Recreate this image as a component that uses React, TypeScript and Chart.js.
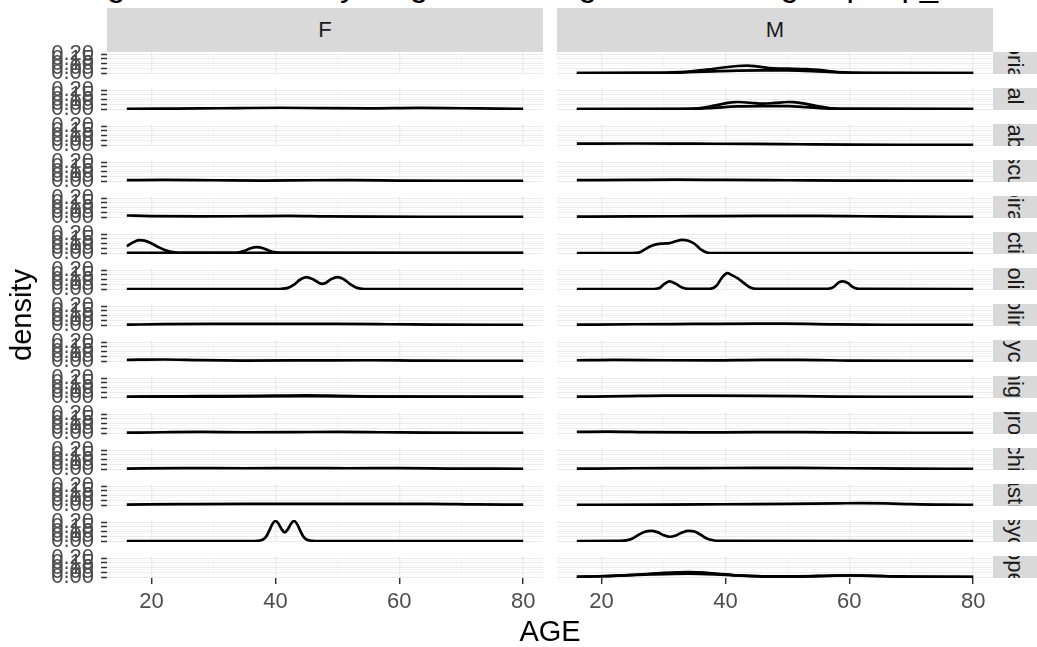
import React, { useEffect, useRef } from "react";
import { Chart, registerables } from "chart.js";

Chart.register(...registerables);

// ---------------- data ----------------
const TITLE = "Age distribution by diagnosis and gender in the group top_15";
const GENDERS = ["F", "M"];
const GROUPS = [
  "psoriasis",
  "dental care",
  "metabolic",
  "vascular",
  "respiratory",
  "infectious",
  "anticholinergic",
  "anticholinergics",
  "antipsychotics",
  "antimigraine",
  "hygroma",
  "psychiatry",
  "gastric",
  "antipsychotic",
  "orthopedics",
];
const X_LABEL = "AGE";
const Y_LABEL = "density";
const AGE_MIN = 16;
const AGE_MAX = 80;
const X_TICKS = [20, 40, 60, 80];
const X_MINOR = [30, 50, 70];
const Y_TICKS = [0, 0.05, 0.1, 0.15, 0.2];
const Y_MINOR = [0.025, 0.075, 0.125, 0.175];
const DENSITY_TOP = 0.212;

// F panels
const F02_AGE = [16, 22, 28, 34, 41, 48, 55, 63, 70, 76, 80];
const F02_DEN = [0.002, 0.004, 0.006, 0.01, 0.013, 0.009, 0.007, 0.012, 0.008, 0.004, 0.002];
const F04_AGE = [16, 22, 30, 38, 46, 52, 60, 70, 80];
const F04_DEN = [0.009, 0.011, 0.008, 0.005, 0.008, 0.009, 0.005, 0.002, 0.001];
const F05_AGE = [16, 20, 28, 36, 42, 48, 56, 65, 80];
const F05_DEN = [0.016, 0.01, 0.006, 0.009, 0.012, 0.007, 0.003, 0.002, 0.001];
const F06A_AGE = [16, 17, 18, 19, 20, 21, 22, 23, 24, 25, 33, 34, 35, 36, 37, 38, 39, 40, 41, 80];
const F06A_DEN = [0.07, 0.113, 0.136, 0.129, 0.101, 0.066, 0.035, 0.014, 0.004, 0.001, 0.001, 0.005, 0.023, 0.051, 0.062, 0.051, 0.023, 0.006, 0.001, 0];
const F06B_AGE = [16, 40, 80];
const F06B_DEN = [0.002, 0.002, 0.001];
const F07_AGE = [16, 40, 41, 42, 43, 44, 45, 46, 47, 47.5, 48, 49, 50, 51, 52, 53, 54, 55, 80];
const F07_DEN = [0, 0, 0.002, 0.012, 0.047, 0.101, 0.126, 0.105, 0.066, 0.055, 0.061, 0.105, 0.126, 0.105, 0.055, 0.016, 0.002, 0, 0];
const F08_AGE = [16, 22, 30, 40, 50, 58, 66, 80];
const F08_DEN = [0.003, 0.009, 0.011, 0.011, 0.011, 0.008, 0.003, 0.001];
const F09_AGE = [16, 22, 28, 35, 45, 55, 62, 70, 80];
const F09_DEN = [0.012, 0.016, 0.009, 0.005, 0.006, 0.008, 0.005, 0.002, 0.001];
const F10A_AGE = [16, 25, 32, 40, 45, 50, 56, 65, 80];
const F10A_DEN = [0.002, 0.008, 0.009, 0.014, 0.017, 0.012, 0.005, 0.002, 0.001];
const F10B_AGE = [16, 30, 45, 60, 80];
const F10B_DEN = [0.002, 0.005, 0.008, 0.003, 0.001];
const F11_AGE = [16, 22, 28, 35, 43, 50, 57, 65, 80];
const F11_DEN = [0.003, 0.008, 0.011, 0.008, 0.009, 0.012, 0.008, 0.003, 0.001];
const F12_AGE = [16, 25, 35, 45, 52, 60, 68, 80];
const F12_DEN = [0.004, 0.009, 0.008, 0.009, 0.008, 0.009, 0.005, 0.002];
const F13_AGE = [16, 25, 35, 45, 55, 65, 72, 80];
const F13_DEN = [0.005, 0.009, 0.012, 0.012, 0.011, 0.011, 0.006, 0.003];
const F14_AGE = [16, 36, 37, 38, 38.5, 39, 39.5, 40, 40.5, 41, 41.5, 42, 42.5, 43, 43.5, 44, 44.5, 45, 46, 47, 80];
const F14_DEN = [0, 0, 0.002, 0.016, 0.047, 0.109, 0.179, 0.212, 0.183, 0.125, 0.091, 0.125, 0.183, 0.212, 0.179, 0.109, 0.047, 0.016, 0.002, 0, 0];

// M panels
const M01A_AGE = [16, 28, 31, 34, 37, 40, 42, 43.5, 45, 47, 49, 51, 53, 55, 57, 59, 61, 64, 80];
const M01A_DEN = [0, 0.001, 0.005, 0.014, 0.035, 0.061, 0.074, 0.078, 0.07, 0.053, 0.047, 0.045, 0.041, 0.033, 0.017, 0.006, 0.002, 0, 0];
const M01B_AGE = [16, 30, 34, 38, 42, 46, 50, 54, 58, 62, 80];
const M01B_DEN = [0, 0.002, 0.008, 0.017, 0.025, 0.028, 0.027, 0.02, 0.008, 0.002, 0];
const M02A_AGE = [16, 33, 35, 37, 39, 41, 42, 44, 46, 48, 50, 51, 53, 55, 57, 59, 80];
const M02A_DEN = [0, 0, 0.004, 0.02, 0.047, 0.07, 0.074, 0.066, 0.056, 0.064, 0.074, 0.073, 0.055, 0.027, 0.008, 0.001, 0];
const M02B_AGE = [16, 35, 38, 42, 46, 50, 53, 56, 59, 80];
const M02B_DEN = [0, 0.002, 0.012, 0.027, 0.031, 0.03, 0.02, 0.006, 0.001, 0];
const M03_AGE = [16, 25, 35, 45, 52, 60, 70, 80];
const M03_DEN = [0.014, 0.016, 0.014, 0.012, 0.008, 0.004, 0.002, 0.001];
const M04_AGE = [16, 25, 32, 40, 50, 60, 70, 80];
const M04_DEN = [0.009, 0.012, 0.014, 0.011, 0.008, 0.005, 0.002, 0.001];
const M05_AGE = [16, 25, 35, 45, 55, 62, 70, 80];
const M05_DEN = [0.003, 0.006, 0.009, 0.012, 0.012, 0.008, 0.003, 0.002];
const M06_AGE = [16, 25, 26, 27, 28, 29, 30, 31, 32, 33, 34, 35, 36, 37, 38, 80];
const M06_DEN = [0, 0, 0.004, 0.039, 0.074, 0.094, 0.1, 0.105, 0.125, 0.14, 0.129, 0.098, 0.039, 0.006, 0, 0];
const M07_AGE = [16, 28.5, 29.5, 30, 31, 32, 33, 34, 37.5, 38.5, 39.5, 40.3, 41, 42, 43, 44, 45, 56.5, 57.5, 58.3, 59, 59.8, 60.5, 61.5, 80];
const M07_DEN = [0, 0, 0.016, 0.047, 0.081, 0.055, 0.016, 0.002, 0.002, 0.031, 0.125, 0.168, 0.148, 0.113, 0.062, 0.016, 0.002, 0.002, 0.023, 0.07, 0.081, 0.062, 0.023, 0.002, 0];
const M08_AGE = [16, 25, 35, 45, 50, 58, 66, 80];
const M08_DEN = [0.003, 0.008, 0.011, 0.014, 0.014, 0.006, 0.002, 0.001];
const M09_AGE = [16, 22, 30, 38, 46, 52, 60, 70, 80];
const M09_DEN = [0.008, 0.012, 0.008, 0.006, 0.011, 0.011, 0.005, 0.002, 0.001];
const M10_AGE = [16, 24, 30, 38, 46, 52, 58, 66, 80];
const M10_DEN = [0.003, 0.009, 0.014, 0.014, 0.012, 0.009, 0.005, 0.002, 0.001];
const M11_AGE = [16, 21, 27, 35, 45, 52, 60, 70, 80];
const M11_DEN = [0.011, 0.014, 0.009, 0.006, 0.009, 0.009, 0.006, 0.002, 0.001];
const M12_AGE = [16, 25, 35, 45, 52, 60, 70, 80];
const M12_DEN = [0.003, 0.008, 0.009, 0.012, 0.011, 0.008, 0.003, 0.001];
const M13_AGE = [16, 30, 40, 50, 58, 62, 66, 70, 75, 80];
const M13_DEN = [0.002, 0.003, 0.008, 0.012, 0.017, 0.02, 0.017, 0.009, 0.003, 0.002];
const M14_AGE = [16, 23, 24, 25, 26, 27, 28, 29, 30, 31, 32, 33, 34, 35, 36, 37, 38, 39, 80];
const M14_DEN = [0, 0.001, 0.006, 0.027, 0.066, 0.098, 0.108, 0.094, 0.062, 0.045, 0.059, 0.09, 0.108, 0.101, 0.066, 0.027, 0.008, 0.001, 0];
const M15A_AGE = [16, 20, 25, 30, 34, 38, 42, 46, 50, 55, 60, 65, 70, 80];
const M15A_DEN = [0.002, 0.008, 0.023, 0.043, 0.051, 0.039, 0.016, 0.004, 0.003, 0.009, 0.017, 0.009, 0.002, 0];
const M15B_AGE = [16, 22, 28, 34, 40, 46, 52, 58, 62, 68, 80];
const M15B_DEN = [0.002, 0.012, 0.027, 0.035, 0.023, 0.008, 0.008, 0.016, 0.016, 0.006, 0.001];

type Curve = [number[], number[]];
const F_PANELS: Curve[][] = [
  [],
  [[F02_AGE, F02_DEN]],
  [],
  [[F04_AGE, F04_DEN]],
  [[F05_AGE, F05_DEN]],
  [[F06A_AGE, F06A_DEN], [F06B_AGE, F06B_DEN]],
  [[F07_AGE, F07_DEN]],
  [[F08_AGE, F08_DEN]],
  [[F09_AGE, F09_DEN]],
  [[F10A_AGE, F10A_DEN], [F10B_AGE, F10B_DEN]],
  [[F11_AGE, F11_DEN]],
  [[F12_AGE, F12_DEN]],
  [[F13_AGE, F13_DEN]],
  [[F14_AGE, F14_DEN]],
  [],
];
const M_PANELS: Curve[][] = [
  [[M01A_AGE, M01A_DEN], [M01B_AGE, M01B_DEN]],
  [[M02A_AGE, M02A_DEN], [M02B_AGE, M02B_DEN]],
  [[M03_AGE, M03_DEN]],
  [[M04_AGE, M04_DEN]],
  [[M05_AGE, M05_DEN]],
  [[M06_AGE, M06_DEN]],
  [[M07_AGE, M07_DEN]],
  [[M08_AGE, M08_DEN]],
  [[M09_AGE, M09_DEN]],
  [[M10_AGE, M10_DEN]],
  [[M11_AGE, M11_DEN]],
  [[M12_AGE, M12_DEN]],
  [[M13_AGE, M13_DEN]],
  [[M14_AGE, M14_DEN]],
  [[M15A_AGE, M15A_DEN], [M15B_AGE, M15B_DEN]],
];
const COLUMNS = [F_PANELS, M_PANELS];

// ---------------- layout ----------------
const FONT = "'Liberation Sans', Arial, Helvetica, sans-serif";
const PANEL_LEFT = [107, 557];
const PANEL_W = 436;
const PANEL_TOP0 = 52;
const ROW_STEP = 36;
const PANEL_H = 22;
const PAD = 8;
const Y_AXIS_W = 107;
const X_AXIS_H = 50;
const NROWS = 15;
const MAJOR_GRID = "#EBEBEB";
const MINOR_GRID = "#F4F4F4";

const near = (v: number, arr: number[]) => arr.some((a) => Math.abs(a - v) < 1e-6);

function makeConfig(curves: Curve[], c: number, r: number): any {
  const left = c === 0;
  const bottom = r === NROWS - 1;
  const xExp = (AGE_MAX - AGE_MIN) * 0.05;
  const yExp = DENSITY_TOP * 0.05;
  return {
    type: "line",
    data: {
      datasets: curves.map(([ages, dens]) => ({
        data: ages.map((a, i) => ({ x: a, y: dens[i] })),
        borderColor: "#000000",
        borderWidth: 2.7,
        pointRadius: 0,
        fill: false,
        cubicInterpolationMode: "monotone",
        borderJoinStyle: "round",
      })),
    },
    options: {
      animation: false,
      responsive: false,
      events: [],
      plugins: { legend: { display: false }, tooltip: { enabled: false } },
      layout: { padding: { left: 0, right: 0, top: PAD, bottom: bottom ? 0 : PAD } },
      scales: {
        x: {
          type: "linear",
          min: AGE_MIN - xExp,
          max: AGE_MAX + xExp,
          afterBuildTicks: (s: any) => {
            s.ticks = [...X_TICKS, ...X_MINOR].sort((a, b) => a - b).map((v) => ({ value: v }));
          },
          afterFit: (s: any) => {
            s.height = bottom ? X_AXIS_H : 0;
            s.paddingLeft = 0;
            s.paddingRight = 0;
            s.paddingTop = 0;
            s.paddingBottom = 0;
          },
          border: { display: false },
          grid: {
            color: (ctx: any) => (ctx.tick && near(ctx.tick.value, X_TICKS) ? MAJOR_GRID : MINOR_GRID),
            lineWidth: (ctx: any) => (ctx.tick && near(ctx.tick.value, X_TICKS) ? 1.4 : 0.8),
            drawTicks: bottom,
            tickLength: 6,
            tickWidth: 1.5,
            tickColor: (ctx: any) => (ctx.tick && near(ctx.tick.value, X_TICKS) ? "#333333" : "rgba(0,0,0,0)"),
          },
          ticks: {
            display: bottom,
            autoSkip: false,
            maxRotation: 0,
            minRotation: 0,
            padding: 5,
            color: "#4D4D4D",
            font: { family: FONT, size: 22 },
            callback: (v: number) => (near(v, X_TICKS) ? String(v) : ""),
          },
        },
        y: {
          type: "linear",
          min: -yExp,
          max: DENSITY_TOP + yExp,
          afterBuildTicks: (s: any) => {
            s.ticks = [...Y_TICKS, ...Y_MINOR].sort((a, b) => a - b).map((v) => ({ value: v }));
          },
          afterFit: (s: any) => {
            s.width = left ? Y_AXIS_W : 0;
            s.paddingTop = 0;
            s.paddingBottom = 0;
            s.paddingLeft = 0;
            s.paddingRight = 0;
          },
          border: { display: false },
          grid: {
            color: (ctx: any) => (ctx.tick && near(ctx.tick.value, Y_TICKS) ? MAJOR_GRID : MINOR_GRID),
            lineWidth: (ctx: any) => (ctx.tick && near(ctx.tick.value, Y_TICKS) ? 1.0 : 0.6),
            drawTicks: left,
            tickLength: 6,
            tickWidth: 1.5,
            tickColor: (ctx: any) => (ctx.tick && near(ctx.tick.value, Y_TICKS) ? "#333333" : "rgba(0,0,0,0)"),
          },
          ticks: {
            display: left,
            autoSkip: false,
            padding: 7,
            color: "#4D4D4D",
            font: { family: FONT, size: 22 },
            callback: (v: number) => (near(v, Y_TICKS) ? v.toFixed(2) : ""),
          },
        },
      },
    },
  };
}

function canvasBox(c: number, r: number) {
  const bottom = r === NROWS - 1;
  const left = c === 0 ? 0 : PANEL_LEFT[1];
  const width = c === 0 ? PANEL_LEFT[0] + PANEL_W : PANEL_W;
  const top = PANEL_TOP0 + ROW_STEP * r - PAD;
  const height = PAD + PANEL_H + (bottom ? X_AXIS_H : PAD);
  return { left, top, width, height };
}

export default function App() {
  const refs = useRef<(HTMLCanvasElement | null)[]>([]);

  useEffect(() => {
    const charts: Chart[] = [];
    COLUMNS.forEach((col, c) =>
      col.forEach((curves, r) => {
        const cv = refs.current[c * NROWS + r];
        if (cv) charts.push(new Chart(cv, makeConfig(curves, c, r)));
      })
    );
    return () => charts.forEach((ch) => ch.destroy());
  }, []);

  const canvases: React.ReactNode[] = [];
  COLUMNS.forEach((col, c) =>
    col.forEach((_, r) => {
      const b = canvasBox(c, r);
      canvases.push(
        <canvas
          key={`cv-${c}-${r}`}
          ref={(el) => {
            refs.current[c * NROWS + r] = el;
          }}
          width={b.width}
          height={b.height}
          style={{ position: "absolute", left: b.left, top: b.top, width: b.width, height: b.height }}
        />
      );
    })
  );

  const gridBottom = PANEL_TOP0 + ROW_STEP * (NROWS - 1) + PANEL_H;
  const plotCenterX = (PANEL_LEFT[0] + PANEL_LEFT[1] + PANEL_W) / 2;

  return (
    <div
      style={{
        position: "absolute",
        left: 0,
        top: 0,
        width: 1037,
        height: 647,
        overflow: "hidden",
        background: "#FFFFFF",
        fontFamily: FONT,
      }}
    >
      <div
        style={{
          position: "absolute",
          left: 0,
          width: 1060,
          top: -33,
          height: 36,
          fontSize: 33,
          lineHeight: "36px",
          textAlign: "center",
          whiteSpace: "nowrap",
          color: "#000",
        }}
      >
        {TITLE}
      </div>
      {GENDERS.map((g, c) => (
        <div
          key={`strip-${g}`}
          style={{
            position: "absolute",
            left: PANEL_LEFT[c],
            top: 7.5,
            width: PANEL_W,
            height: 44,
            background: "#D9D9D9",
            color: "#1A1A1A",
            fontSize: 22,
            lineHeight: "44px",
            textAlign: "center",
          }}
        >
          {g}
        </div>
      ))}
      {GROUPS.map((name, r) => (
        <div
          key={`rstrip-${r}`}
          style={{
            position: "absolute",
            left: PANEL_LEFT[1] + PANEL_W,
            top: PANEL_TOP0 + ROW_STEP * r,
            width: 44,
            height: PANEL_H,
            background: "#D9D9D9",
            overflow: "hidden",
          }}
        >
          <span
            style={{
              position: "absolute",
              left: 22,
              top: 11,
              transform: "translate(-50%, -50%) rotate(90deg)",
              whiteSpace: "nowrap",
              fontSize: 22,
              lineHeight: "22px",
              color: "#1A1A1A",
            }}
          >
            {name}
          </span>
        </div>
      ))}
      {canvases}
      <div
        style={{
          position: "absolute",
          left: plotCenterX - 100,
          width: 200,
          top: gridBottom + 38,
          fontSize: 29,
          lineHeight: "30px",
          textAlign: "center",
          color: "#000",
        }}
      >
        {X_LABEL}
      </div>
      <div
        style={{
          position: "absolute",
          left: 21,
          top: (PANEL_TOP0 + gridBottom) / 2,
          transform: "translate(-50%, -50%) rotate(-90deg)",
          fontSize: 29,
          lineHeight: "30px",
          whiteSpace: "nowrap",
          color: "#000",
        }}
      >
        {Y_LABEL}
      </div>
    </div>
  );
}
